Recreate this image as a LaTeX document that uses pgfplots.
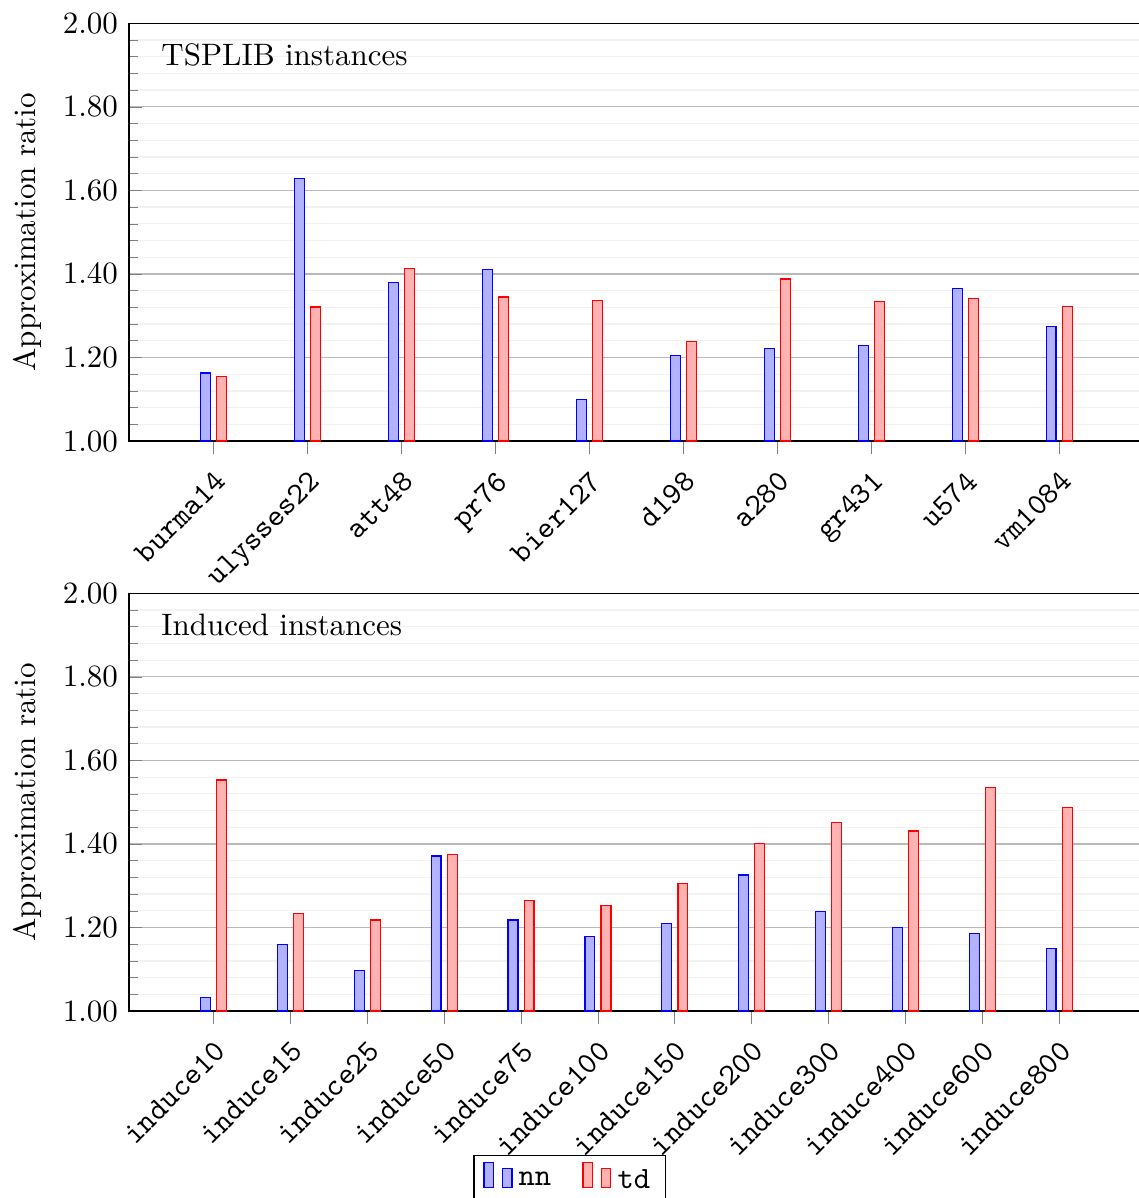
\documentclass[border=0pt]{standalone}
\usepackage{pgfplots}
\pgfplotsset{compat=1.18}
\usepackage{pgfplotstable}

\pgfplotstableread{
x nn td
0 1.163 1.154
1 1.628 1.321
2 1.379 1.413
3 1.411 1.345
4 1.100 1.336
5 1.204 1.238
6 1.222 1.388
7 1.228 1.334
8 1.366 1.342
9 1.275 1.323
}\tsplib

\pgfplotstableread{
x nn td
0 1.033 1.553
1 1.160 1.233
2 1.097 1.218
3 1.371 1.375
4 1.218 1.265
5 1.179 1.253
6 1.210 1.305
7 1.326 1.401
8 1.239 1.451
9 1.201 1.431
10 1.186 1.535
11 1.150 1.488
}\induced

\pgfplotsset{
  mystyle/.style={
    width=327.4pt, height=134.8pt, scale only axis,
    ybar=2pt, bar width=3.2pt,
    ymin=1, ymax=2,
    ytick={1,1.2,1.4,1.6,1.8,2},
    minor y tick num=4,
    ymajorgrids, yminorgrids,
    major grid style={gray!55},
    minor grid style={gray!10},
    yticklabel style={/pgf/number format/.cd, fixed, fixed zerofill, precision=2},
    ylabel={Approximation ratio},
    xtick=data,
    xtick align=outside,
    xtick pos=bottom,
    ytick pos=left,
    x tick label style={rotate=45, anchor=north east, font=\ttfamily},
    enlarge x limits=0.1,
  },
  nnstyle/.style={draw=blue, fill=blue!30},
  tdstyle/.style={draw=red, fill=red!30},
}

\begin{document}
\begin{tikzpicture}
\begin{axis}[mystyle,
  xticklabels={burma14,ulysses22,att48,pr76,bier127,d198,a280,gr431,u574,vm1084}]
\addplot[nnstyle] table[x=x, y=nn] {\tsplib};
\addplot[tdstyle] table[x=x, y=td] {\tsplib};
\node[anchor=north west, inner sep=0pt, xshift=10.3pt, yshift=-6.5pt] at (rel axis cs:0,1) {TSPLIB instances};
\end{axis}

\begin{axis}[mystyle, at={(0pt,-183.9pt)},
  xticklabels={induce10,induce15,induce25,induce50,induce75,induce100,induce150,induce200,induce300,induce400,induce600,induce800},
  legend columns=2,
  legend style={at={(0.4345,-0.3445)}, anchor=north, font=\ttfamily,
    /tikz/every even column/.append style={column sep=8pt}}]
\addplot[nnstyle] table[x=x, y=nn] {\induced};
\addlegendentry{nn}
\addplot[tdstyle] table[x=x, y=td] {\induced};
\addlegendentry{td}
\node[anchor=north west, inner sep=0pt, xshift=10.3pt, yshift=-6.5pt] at (rel axis cs:0,1) {Induced instances};
\end{axis}
\pgfresetboundingbox
\path[use as bounding box] (-41.6pt,-244.2pt) rectangle (325.8pt,142.3pt);
\end{tikzpicture}
\end{document}
